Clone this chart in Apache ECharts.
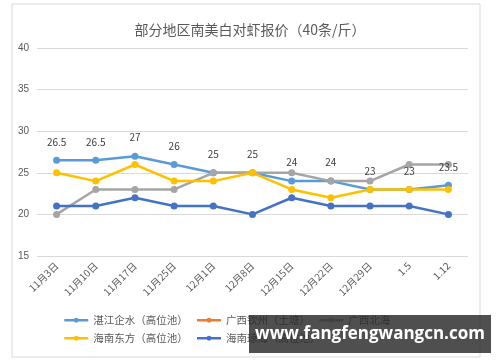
<!DOCTYPE html>
<html><head><meta charset="utf-8">
<script src="https://cdn.jsdelivr.net/npm/echarts@6/dist/echarts.min.js"></script>
<style>html,body{margin:0;padding:0;background:#fff}#c{width:500px;height:362px}</style>
</head><body><div id="c"></div>
<script>
const categories = ['11月3日','11月10日','11月17日','11月25日','12月1日','12月8日','12月15日','12月22日','12月29日','1.5','1.12'];
const zhanjiang = [26.5,26.5,27,26,25,25,24,24,23,23,23.5];
const qinzhou = [null,null,null,null,null,null,null,null,null,null,null];
const guangxi = [20,23,23,23,25,25,25,24,24,26,26];
const dongfang = [25,24,26,24,24,25,23,22,23,23,23];
const qionghai = [21,21,22,21,21,20,22,21,21,21,20];
const names = ['湛江企水（高位池）','广西钦州（土塘）','广西北海','海南东方（高位池）','海南琼海（高位池）'];
const colors = ['#5B9BD5','#ED7D31','#A5A5A5','#FFC000','#4472C4'];
const yTicks = {min:15,max:40,interval:5};

const chart = echarts.init(document.getElementById('c'));
const mk = (i, data, label) => ({
  name: names[i], type:'line', data, color: colors[i],
  symbol:'circle', symbolSize:7, lineStyle:{width:2.5},
  label: label ? {show:true, position:'top', distance:10, color:'#404040', fontSize:10, fontFamily:'Noto Sans CJK SC'} : {show:false},
  animation:false
});
const legendCommon = {itemWidth:24, itemHeight:6, itemGap:8,
  itemStyle:{}, lineStyle:{width:2.5},
  textStyle:{color:'#595959', fontSize:10.5, fontFamily:'Noto Sans CJK SC'}};
chart.setOption({
  backgroundColor:'#fff',
  title:{text:'部分地区南美白对虾报价（40条/斤）', left:'center', top:18,
    textStyle:{color:'#595959', fontSize:14, fontWeight:'normal', fontFamily:'Noto Sans CJK SC'}},
  grid:{left:37, right:32, top:48, bottom:106},
  legend:[
    Object.assign({data:names.slice(0,3), left:58, top:310}, legendCommon),
    Object.assign({data:names.slice(3), left:58, top:328}, legendCommon)
  ],
  xAxis:{type:'category', data:categories, boundaryGap:true,
    axisLine:{show:false}, axisTick:{show:false},
    axisLabel:{rotate:45, color:'#595959', fontSize:10, margin:8, fontFamily:'Noto Sans CJK SC'}},
  yAxis:{type:'value', min:yTicks.min, max:yTicks.max, interval:yTicks.interval,
    axisLine:{show:false}, axisTick:{show:false},
    splitLine:{lineStyle:{color:'#d9d9d9', width:1}},
    axisLabel:{color:'#595959', fontSize:10, margin:8}},
  series:[mk(0,zhanjiang,true), mk(1,qinzhou,false), mk(2,guangxi,false), mk(3,dongfang,false), mk(4,qionghai,false)],
  graphic:[
    {type:'rect', shape:{x:12,y:4,width:468,height:353}, style:{fill:'none', stroke:'#d9d9d9', lineWidth:1}, silent:true, z:-1},
    {type:'rect', shape:{x:249,y:315,width:242,height:38}, style:{fill:'rgba(40,40,40,0.82)'}, z:100},
    {type:'text', x:370, y:334, style:{text:'www.fangfengwangcn.com', fill:'#fff', font:'bold 17px "Open Sans", sans-serif', textAlign:'center', textVerticalAlign:'middle'}, z:101}
  ]
});
</script></body></html>
